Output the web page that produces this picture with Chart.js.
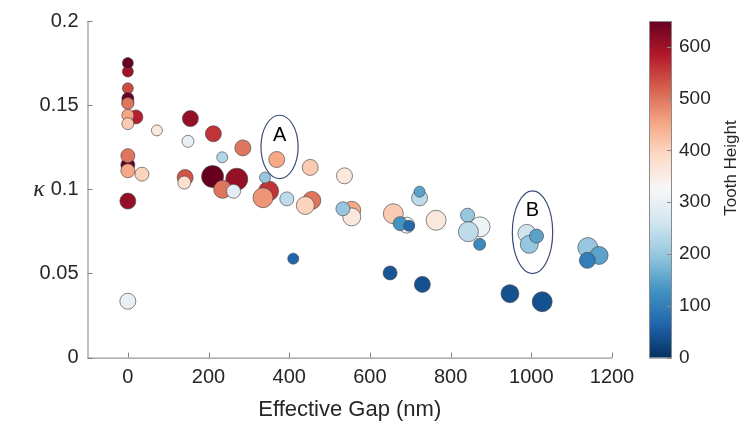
<!DOCTYPE html>
<html>
<head>
<meta charset="utf-8">
<script src="https://cdn.jsdelivr.net/npm/chart.js@4/dist/chart.umd.min.js"></script>
<style>
  html, body { margin: 0; background: #fff; }
</style>
</head>
<body>
<canvas id="kappaChart" width="739" height="425"></canvas>
<script>
// Data
const gap = [0, 0, 0, 0, 0, 0, 20, 0, 0, 72,
  0, 35, 0, 0, 0, 0,
  155, 149, 212, 285, 234, 142, 140, 210, 270, 235, 262,
  349, 340, 335, 369, 394, 452, 456, 440, 537, 555, 555, 533,
  658, 691, 675, 697, 723, 723, 764, 873, 842, 844, 872,
  989, 995, 1013, 947, 1027, 1140, 1168, 1139, 410, 650, 730];
const kappa = [0.170, 0.175, 0.160, 0.1515, 0.154, 0.151, 0.143, 0.144, 0.139, 0.135,
  0.1145, 0.109, 0.120, 0.111, 0.093, 0.0335,
  0.142, 0.1285, 0.133, 0.1246, 0.119, 0.107, 0.104, 0.1076, 0.106, 0.100, 0.0988,
  0.099, 0.107, 0.095, 0.1177, 0.0943, 0.113, 0.0934, 0.0904, 0.108, 0.0875, 0.0836, 0.0884,
  0.0855, 0.0787, 0.0796, 0.0783, 0.0949, 0.0986, 0.0816, 0.0777, 0.0846, 0.0748, 0.0673,
  0.0738, 0.0673, 0.0722, 0.038, 0.0332, 0.0654, 0.0607, 0.0578, 0.0588, 0.0503, 0.0435];
const toothHeight = [600, 650, 540, 640, 650, 500, 580, 455, 410, 360,
  650, 400, 500, 450, 610, 300,
  610, 300, 560, 500, 230, 530, 380, 650, 610, 500, 290,
  560, 200, 470, 450, 240, 410, 500, 400, 360, 450, 360, 200,
  410, 310, 130, 70, 240, 150, 360, 310, 200, 240, 115,
  260, 200, 150, 40, 40, 200, 150, 100, 65, 45, 40];
const sizeVar = [2.5, 2.5, 2.5, 3, 3, 3, 4, 3, 3, 2.5,
  4, 4, 4, 4, 5, 5,
  5, 3, 5, 5, 2.5, 5, 3.5, 8, 8, 6, 4,
  7, 2.5, 7, 5, 4, 5, 6, 6, 5, 6, 6, 4,
  7, 5, 4, 2.5, 5, 2.5, 7, 7, 4, 7, 3,
  6, 6, 4, 6, 7, 7, 6, 5, 2.5, 4, 5];

const xTicks = [0, 200, 400, 600, 800, 1000, 1200];
const yTicks = [0, 0.05, 0.1, 0.15, 0.2];
const cbTicks = [0, 100, 200, 300, 400, 500, 600];
const cbMin = 0, cbMax = 650;

// annotation ellipses (data coordinates)
const annoText = ['A', 'B'];
const annoX = [376, 1003];
const annoY = [0.1252, 0.0745];
const annoRx = [46, 50];
const annoRy = [0.0188, 0.0246];
const annoTextY = [0.132, 0.0876];

// reversed RdBu colormap
const rdbu = ['#053061', '#2166ac', '#4393c3', '#92c5de', '#d1e5f0', '#f7f7f7',
  '#fddbc7', '#f4a582', '#d6604d', '#b2182b', '#67001f'];

function hexToRgb(h) {
  return [parseInt(h.slice(1, 3), 16), parseInt(h.slice(3, 5), 16), parseInt(h.slice(5, 7), 16)];
}
function colorFor(v) {
  let t = (v - cbMin) / (cbMax - cbMin);
  t = Math.max(0, Math.min(1, t)) * (rdbu.length - 1);
  const i = Math.min(Math.floor(t), rdbu.length - 2);
  const f = t - i;
  const a = hexToRgb(rdbu[i]), b = hexToRgb(rdbu[i + 1]);
  const c = a.map((x, k) => Math.round(x + (b[k] - x) * f));
  return `rgb(${c[0]},${c[1]},${c[2]})`;
}

const FONT = '"Liberation Sans", Arial, sans-serif';
const TXT = '#262626';
Chart.defaults.font.family = FONT;

// axes, colorbar, ellipses
const decorPlugin = {
  id: 'decor',
  afterDraw(chart) {
    const { ctx, chartArea: ca, scales: { x, y } } = chart;
    ctx.save();

    // axis lines + inward ticks
    ctx.strokeStyle = '#808080';
    ctx.lineWidth = 1;
    ctx.beginPath();
    ctx.moveTo(ca.left + 0.5, ca.top);
    ctx.lineTo(ca.left + 0.5, ca.bottom + 0.5);
    ctx.lineTo(ca.right, ca.bottom + 0.5);
    xTicks.forEach(v => {
      const px = Math.round(x.getPixelForValue(v)) + 0.5;
      ctx.moveTo(px, ca.bottom);
      ctx.lineTo(px, ca.bottom - 5);
    });
    yTicks.forEach(v => {
      const py = Math.round(y.getPixelForValue(v)) + 0.5;
      ctx.moveTo(ca.left, py);
      ctx.lineTo(ca.left + 5, py);
    });
    ctx.stroke();

    // ellipses
    ctx.strokeStyle = '#3d4d7a';
    ctx.lineWidth = 1.2;
    annoText.forEach((t, i) => {
      const cx = x.getPixelForValue(annoX[i]);
      const cy = y.getPixelForValue(annoY[i]);
      const rx = x.getPixelForValue(annoX[i] + annoRx[i]) - cx;
      const ry = cy - y.getPixelForValue(annoY[i] + annoRy[i]);
      ctx.beginPath();
      ctx.ellipse(cx, cy, rx, ry, 0, 0, Math.PI * 2);
      ctx.stroke();
      ctx.fillStyle = '#000';
      ctx.font = '20px ' + FONT;
      ctx.textAlign = 'center';
      ctx.textBaseline = 'middle';
      ctx.fillText(t, cx, y.getPixelForValue(annoTextY[i]));
    });

    // y label
    ctx.fillStyle = TXT;
    ctx.font = 'italic 24px "Liberation Serif", serif';
    ctx.textAlign = 'center';
    ctx.textBaseline = 'middle';
    ctx.fillText('κ', 39, (ca.top + ca.bottom) / 2);

    // colorbar
    const cbL = ca.right + 37, cbW = 22;
    const grad = ctx.createLinearGradient(0, ca.bottom, 0, ca.top);
    rdbu.forEach((c, i) => grad.addColorStop(i / (rdbu.length - 1), c));
    ctx.fillStyle = grad;
    ctx.fillRect(cbL, ca.top, cbW, ca.bottom - ca.top);
    ctx.strokeStyle = '#8a8a8a';
    ctx.lineWidth = 1;
    ctx.strokeRect(cbL + 0.5, ca.top + 0.5, cbW, ca.bottom - ca.top);
    const cbPix = v => ca.bottom - (v - cbMin) / (cbMax - cbMin) * (ca.bottom - ca.top);
    ctx.beginPath();
    cbTicks.forEach(v => {
      const py = Math.round(cbPix(v)) + 0.5;
      ctx.moveTo(cbL + cbW, py);
      ctx.lineTo(cbL + cbW - 4, py);
    });
    ctx.stroke();
    ctx.fillStyle = TXT;
    ctx.font = '19px ' + FONT;
    ctx.textAlign = 'left';
    ctx.textBaseline = 'middle';
    cbTicks.forEach(v => ctx.fillText(String(v), cbL + cbW + 8, cbPix(v)));

    ctx.save();
    ctx.translate(731, 168);
    ctx.rotate(-Math.PI / 2);
    ctx.font = '17px ' + FONT;
    ctx.textAlign = 'center';
    ctx.fillText('Tooth Height', 0, 0);
    ctx.restore();

    ctx.restore();
  }
};

const ctx = document.getElementById('kappaChart').getContext('2d');
new Chart(ctx, {
  type: 'bubble',
  data: {
    datasets: [{
      data: gap.map((g, i) => ({ x: g, y: kappa[i], r: 3 + sizeVar[i] })),
      backgroundColor: toothHeight.map(colorFor),
      borderColor: 'rgba(70,70,70,0.65)',
      borderWidth: 1
    }]
  },
  options: {
    responsive: false,
    animation: false,
    devicePixelRatio: 1,
    layout: { padding: { left: 0, top: 16.4, right: 127, bottom: 0 } },
    plugins: { legend: { display: false }, tooltip: { enabled: false } },
    scales: {
      x: {
        type: 'linear', min: -100, max: 1200,
        afterBuildTicks: s => { s.ticks = xTicks.map(v => ({ value: v })); },
        grid: { display: false, drawTicks: false },
        border: { display: false },
        ticks: { color: TXT, font: { size: 20 }, padding: 8, maxRotation: 0, callback: v => String(v) },
        title: { display: true, text: 'Effective Gap (nm)', color: TXT, font: { size: 22 }, padding: { top: 0, bottom: 2 } },
        afterFit: s => { s.height = 67.4; }
      },
      y: {
        type: 'linear', min: 0, max: 0.2,
        afterBuildTicks: s => { s.ticks = yTicks.map(v => ({ value: v })); },
        grid: { display: false, drawTicks: false },
        border: { display: false },
        ticks: { color: TXT, font: { size: 20 }, padding: 9, callback: v => String(+v.toFixed(2)) },
        afterFit: s => { s.width = 87.5; }
      }
    }
  },
  plugins: [decorPlugin]
});
</script>
</body>
</html>
